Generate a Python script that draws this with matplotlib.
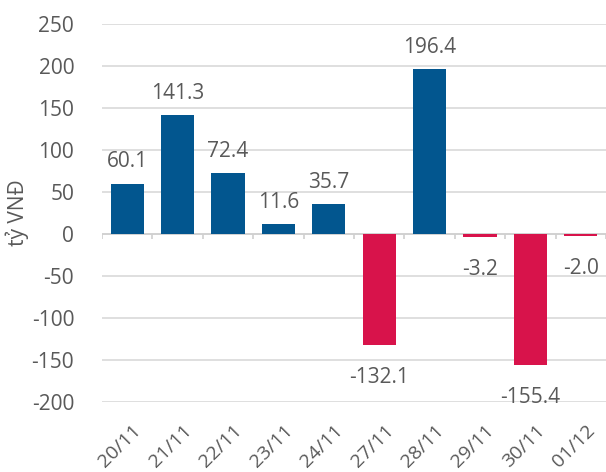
import matplotlib
matplotlib.use('Agg')
import matplotlib.pyplot as plt
from matplotlib.transforms import ScaledTranslation

# du lieu
ngay = ['20/11', '21/11', '22/11', '23/11', '24/11', '27/11', '28/11', '29/11', '30/11', '01/12']
gia_tri = [60.1, 141.3, 72.4, 11.6, 35.7, -132.1, 196.4, -3.2, -155.4, -2.0]
y_ticks = [-200, -150, -100, -50, 0, 50, 100, 150, 200, 250]

plt.rcParams['font.family'] = ['Open Sans', 'DejaVu Sans']
chu = '#595959'
xanh = '#02568F'
do = '#D8134B'

fig = plt.figure(figsize=(6.06, 4.72), dpi=100)
ax = fig.add_axes([102 / 606, 70 / 472, 504 / 606, 378 / 472])

x = list(range(len(ngay)))
mau = [xanh if v >= 0 else do for v in gia_tri]
ax.bar(x, gia_tri, width=0.66, color=mau, zorder=3)

# nhan gia tri
for i, v in enumerate(gia_tri):
    if v >= 0:
        ax.annotate('%.1f' % v, (i, v), xytext=(0, 8), textcoords='offset points',
                    ha='center', va='bottom', fontsize=15, color=chu)
    else:
        ax.annotate('%.1f' % v, (i, v), xytext=(0, -16), textcoords='offset points',
                    ha='center', va='top', fontsize=15, color=chu)

ax.set_xlim(-0.5, len(ngay) - 0.5)
ax.set_ylim(-200, 250)
ax.set_yticks(y_ticks)
ax.set_yticklabels([str(t) for t in y_ticks], fontsize=15, color=chu)
ax.grid(axis='y', color='#D9D9D9', linewidth=1.2, zorder=0)
ax.tick_params(axis='y', length=0, pad=20)

ax.set_xticks(x)
ax.set_xticklabels(ngay, rotation=45, ha='right', va='top', rotation_mode='anchor',
                   fontsize=14, color=chu)
ax.tick_params(axis='x', length=0, pad=14)
dich = ScaledTranslation(5 / 100, 0, fig.dpi_scale_trans)
for lb in ax.get_xticklabels():
    lb.set_transform(lb.get_transform() + dich)

for s in ax.spines.values():
    s.set_visible(False)

# truc 0 va vach chia
ax.axhline(0, color='#D0D0D0', linewidth=1.2, zorder=2)
ranh = [i - 0.5 for i in range(len(ngay) + 1)]
ax.vlines(ranh, -6, 0, color='#D0D0D0', linewidth=1.2, zorder=2)

ax.set_ylabel('tỷ VNĐ', fontsize=15, color=chu, labelpad=2)

fig.savefig('out.png', dpi=100)
